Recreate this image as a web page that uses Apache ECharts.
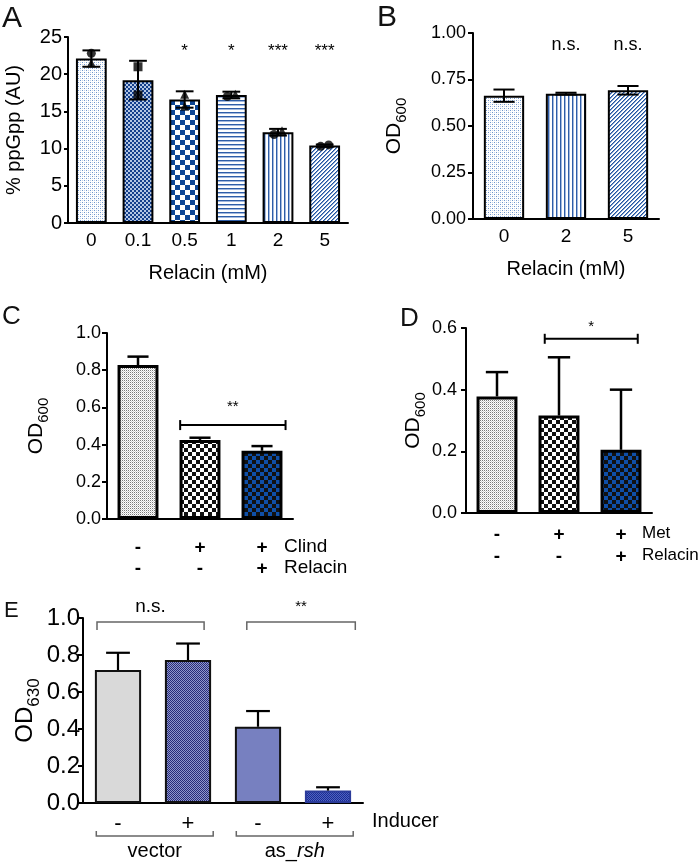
<!DOCTYPE html>
<html><head><meta charset="utf-8">
<script src="https://cdn.jsdelivr.net/npm/echarts@6/dist/echarts.min.js"></script>
<style>html,body{margin:0;padding:0;background:#fff}#c{width:700px;height:863px}</style>
</head><body><div id="c"></div>
<script>
// ---------------- data ----------------
const catsA = ['0', '0.1', '0.5', '1', '2', '5'];
const meanA = [22.1, 19.2, 16.6, 17.2, 12.2, 10.4];
const errA  = [1.1, 2.6, 1.1, 0.45, 0.45, 0.15];
const repA1 = [22.8, 21.0, 17.3, 17.0, 11.9, 10.3];
const repA2 = [21.5, 17.2, 15.7, 17.3, 12.4, 10.5];
const sigA  = ['', '', '*', '*', '***', '***'];
const sigAy = 23.1;

const catsB = ['0', '2', '5'];
const meanB = [0.663, 0.674, 0.692];
const errB  = [0.033, 0.005, 0.023];
const sigB  = ['', 'n.s.', 'n.s.'];
const sigBy = 0.935;

const clindC   = ['-', '+', '+'];
const relacinC = ['-', '-', '+'];
const meanC = [0.828, 0.425, 0.367];
const errC  = [0.045, 0.012, 0.025];
const pairC = [1, 2];
const pairCy = 0.505;
const pairCtxt = '**';

const metD     = ['-', '+', '+'];
const relacinD = ['-', '-', '+'];
const meanD = [0.378, 0.316, 0.205];
const errD  = [0.079, 0.189, 0.195];
const pairD = [1, 2];
const pairDy = 0.565;
const pairDtxt = '*';

const inducerE = ['-', '+', '-', '+'];
const groupE   = ['vector', 'vector', 'as_rsh', 'as_rsh'];
const meanE = [0.719, 0.773, 0.412, 0.067];
const errE  = [0.093, 0.089, 0.085, 0.018];
const pairsE = [[0, 1], [2, 3]];
const pairsEy = [0.978, 0.978];
const pairsEtxt = ['n.s.', '**'];

// ---------------- styles ----------------
const FONT = '"Liberation Sans", Arial, Helvetica, sans-serif';
function pat(w, h, draw) {
  const c = document.createElement('canvas'); c.width = w; c.height = h;
  const g = c.getContext('2d'); g.fillStyle = '#fff'; g.fillRect(0, 0, w, h); draw(g);
  return { image: c, repeat: 'repeat' };
}
function px(g, color, list) { g.fillStyle = color; list.forEach(p => g.fillRect(p[0], p[1], p[2] || 1, p[3] || 1)); }

const P = {
  lightDots: pat(4, 4, g => { px(g, '#6f95cc', [[0,0],[2,2]]); px(g, '#c3d3ea', [[2,0],[0,2]]); }),
  fineCheck: pat(4, 4, g => { px(g, '#b3c6e4', [[0,0,4,4]]); px(g, '#143f8c', [[0,0,2,2],[2,2,2,2]]); }),
  coarseCheck: pat(10, 10, g => { px(g, '#0c4594', [[0,0,5,5],[5,5,5,5]]); }),
  hStripes: pat(4, 4, g => { px(g, '#2f5ea8', [[0,0,4,1]]); px(g, '#a3b9de', [[0,1,4,1]]); }),
  vStripes: pat(4, 4, g => { px(g, '#2f5ea8', [[0,0,1,4]]); px(g, '#a3b9de', [[1,0,1,4]]); }),
  diag: pat(4, 4, g => { px(g, '#22549f', [[3,0],[2,1],[1,2],[0,3]]); px(g, '#7d9dd0', [[0,0],[3,1],[2,2],[1,3]]); }),
  grayDots: pat(2, 2, g => { px(g, '#7a7a7a', [[0,0]]); px(g, '#d0d0d0', [[1,1]]); }),
  bwCheck: pat(8, 8, g => { px(g, '#111', [[0,0,4,4],[4,4,4,4]]); }),
  blueBlackCheck: pat(8, 8, g => { px(g, '#111', [[0,0,4,4],[4,4,4,4]]); px(g, '#0f4fa8', [[4,0,4,4],[0,4,4,4]]); }),
  navyFine: pat(2, 2, g => { px(g, '#262b78', [[0,0],[1,1]]); px(g, '#9097cc', [[1,0],[0,1]]); }),
  blueFine: pat(2, 2, g => { px(g, '#1a2c94', [[0,0],[1,1]]); px(g, '#4f62bf', [[1,0],[0,1]]); })
};
const fillA = [P.lightDots, P.fineCheck, P.coarseCheck, P.hStripes, P.vStripes, P.diag];
const fillB = [P.lightDots, P.vStripes, P.diag];
const fillC = [P.grayDots, P.bwCheck, P.blueBlackCheck];
const fillE = ['#d9d9d9', P.navyFine, '#7780c0', P.blueFine];
const borderE = ['#111', '#111', '#111', '#2b3b9a'];
const symA1 = ['circle', 'rect', 'triangle', 'circle', 'circle', 'circle'];
const symA2 = ['triangle', 'rect', 'triangle', 'triangle', 'triangle', 'circle'];
const offA1 = [0, 0, 0, -4, -4, -4];
const offA2 = [0, 0, 0, 4, 4, 4];

// ---------------- helpers ----------------
function xAx(gi, data, o) {
  o = o || {};
  return {
    type: 'category', gridIndex: gi, data: data,
    axisLine: { lineStyle: { color: '#000', width: 2 } },
    axisTick: { alignWithLabel: true, length: 5, lineStyle: { color: '#000', width: 2 } },
    axisLabel: Object.assign({ color: '#000', fontFamily: FONT, fontSize: 19, margin: 8 }, o.label || {}),
    name: o.name || '', nameLocation: 'middle', nameGap: o.nameGap || 30,
    nameTextStyle: { color: '#000', fontFamily: FONT, fontSize: 20 }
  };
}
function yAx(gi, max, interval, dec, o) {
  o = o || {};
  return {
    type: 'value', gridIndex: gi, min: 0, max: max, interval: interval,
    splitLine: { show: false },
    axisLine: { show: true, lineStyle: { color: '#000', width: 2 } },
    axisTick: { show: true, length: o.tick || 5, lineStyle: { color: '#000', width: 2 } },
    axisLabel: { color: '#000', fontFamily: FONT, fontSize: o.fontSize || 17, margin: o.margin || 6,
      formatter: v => v.toFixed(dec) },
    name: o.name, nameLocation: 'middle', nameRotate: 90, nameGap: o.nameGap,
    nameTextStyle: Object.assign({ color: '#000', fontFamily: FONT, fontSize: 20 }, o.nameStyle || {})
  };
}
function odName(sub, big, small) {
  return {
    name: '{o|OD}{s|' + sub + '}',
    nameStyle: { rich: {
      o: { fontFamily: FONT, fontSize: big, color: '#000', verticalAlign: 'top', lineHeight: big },
      s: { fontFamily: FONT, fontSize: small, color: '#000', verticalAlign: 'top', lineHeight: small, padding: [Math.round(big * 0.48), 0, 0, 0] }
    } }
  };
}
function barSeries(gi, means, fills, borders, bw, width) {
  return {
    type: 'bar', xAxisIndex: gi, yAxisIndex: gi, barWidth: width, z: 2,
    data: means.map((m, i) => ({ value: m, itemStyle: { color: fills[i], borderColor: borders ? borders[i] : '#000', borderWidth: bw } }))
  };
}
function errSeries(gi, means, errs, upOnly, lw, capFrac) {
  return {
    type: 'custom', xAxisIndex: gi, yAxisIndex: gi, z: 5,
    data: means.map((m, i) => [i, m, errs[i]]),
    renderItem: (params, api) => {
      const i = api.value(0), m = api.value(1), e = api.value(2);
      const top = api.coord([i, m + e]);
      const bot = api.coord([i, upOnly ? m : m - e]);
      const half = api.size([1, 0])[0] * capFrac;
      const st = { stroke: '#000', lineWidth: lw };
      const ch = [
        { type: 'line', shape: { x1: top[0], y1: top[1], x2: bot[0], y2: bot[1] }, style: st },
        { type: 'line', shape: { x1: top[0] - half, y1: top[1], x2: top[0] + half, y2: top[1] }, style: st }
      ];
      if (!upOnly) ch.push({ type: 'line', shape: { x1: bot[0] - half, y1: bot[1], x2: bot[0] + half, y2: bot[1] }, style: st });
      return { type: 'group', children: ch };
    }
  };
}
function textSeries(gi, labels, yv, fs) {
  return {
    type: 'custom', xAxisIndex: gi, yAxisIndex: gi, z: 6, clip: false,
    data: labels.map((l, i) => [i, yv]),
    renderItem: (params, api) => {
      const p = api.coord([api.value(0), api.value(1)]);
      return { type: 'text', x: p[0], y: p[1], style: { text: labels[params.dataIndex], fontFamily: FONT, fontSize: fs, fill: '#000', align: 'center', verticalAlign: 'middle' } };
    }
  };
}
// significance line with end caps |----|
function pairSeries(gi, pair, yv, txt, txtGap, leftFrac, rightFrac) {
  return {
    type: 'custom', xAxisIndex: gi, yAxisIndex: gi, z: 6, clip: false,
    data: [[pair[0], yv, pair[1]]],
    renderItem: (params, api) => {
      const band = api.size([1, 0])[0];
      const a = api.coord([api.value(0), api.value(1)]);
      const b = api.coord([api.value(2), api.value(1)]);
      const x0 = a[0] - band * leftFrac, x1 = b[0] + band * rightFrac, y = a[1];
      const st = { stroke: '#000', lineWidth: 2 };
      return { type: 'group', children: [
        { type: 'line', shape: { x1: x0, y1: y, x2: x1, y2: y }, style: st },
        { type: 'line', shape: { x1: x0, y1: y - 5, x2: x0, y2: y + 5 }, style: st },
        { type: 'line', shape: { x1: x1, y1: y - 5, x2: x1, y2: y + 5 }, style: st },
        { type: 'text', x: (x0 + x1) / 2, y: y - txtGap, style: { text: txt, fontFamily: FONT, fontSize: 15, fill: '#000', align: 'center', verticalAlign: 'middle' } }
      ] };
    }
  };
}

// ---------------- option ----------------
const option = {
  animation: false,
  backgroundColor: '#fff',
  grid: [
    { left: 68, top: 37, width: 280, height: 186 },
    { left: 473, top: 33, width: 186, height: 186 },
    { left: 107, top: 333, width: 186, height: 186 },
    { left: 466, top: 328, width: 186, height: 185 },
    { left: 83, top: 618, width: 280, height: 185 }
  ],
  xAxis: [
    xAx(0, catsA, { name: 'Relacin (mM)', nameGap: 40 }),
    xAx(1, catsB, { name: 'Relacin (mM)', nameGap: 40 }),
    xAx(2, clindC.map((c, i) => c + '\n' + relacinC[i]), { label: { fontSize: 19, fontWeight: 'bold', lineHeight: 21, margin: 18 } }),
    xAx(3, metD.map((c, i) => c + '\n' + relacinD[i]), { label: { fontSize: 19, fontWeight: 'bold', lineHeight: 22, margin: 11 } }),
    xAx(4, groupE.map((g, i) => g + ' ' + inducerE[i]), { label: { fontSize: 22, margin: 10, formatter: (v, i) => inducerE[i] } })
  ],
  yAxis: [
    yAx(0, 25, 5, 0, { name: '% ppGpp (AU)', nameGap: 44, margin: 6, fontSize: 20, tick: 4 }),
    yAx(1, 1, 0.25, 2, Object.assign({ nameGap: 68, margin: 7, fontSize: 18 }, odName('600', 21, 15))),
    yAx(2, 1, 0.2, 1, Object.assign({ nameGap: 60, margin: 6, fontSize: 18 }, odName('600', 21, 15))),
    yAx(3, 0.6, 0.2, 1, Object.assign({ nameGap: 35, margin: 9, fontSize: 18 }, odName('600', 21, 15))),
    yAx(4, 1, 0.2, 1, Object.assign({ nameGap: 40, margin: 3, fontSize: 24 }, odName('630', 24, 17)))
  ],
  series: [
    // A
    barSeries(0, meanA, fillA, null, 2, '66%'),
    { type: 'scatter', xAxisIndex: 0, yAxisIndex: 0, z: 4, itemStyle: { color: '#000' },
      data: repA1.map((v, i) => ({ value: [i, v], symbol: symA1[i], symbolSize: 9, symbolOffset: [offA1[i], 0] })) },
    { type: 'scatter', xAxisIndex: 0, yAxisIndex: 0, z: 4, itemStyle: { color: '#000' },
      data: repA2.map((v, i) => ({ value: [i, v], symbol: symA2[i], symbolSize: 9, symbolOffset: [offA2[i], 0] })) },
    errSeries(0, meanA, errA, false, 2, 0.19),
    textSeries(0, sigA, sigAy, 17),
    // B
    barSeries(1, meanB, fillB, null, 2, '65%'),
    errSeries(1, meanB, errB, false, 2, 0.17),
    textSeries(1, sigB, sigBy, 18),
    // C
    barSeries(2, meanC, fillC, null, 3, '66%'),
    errSeries(2, meanC, errC, true, 2.5, 0.17),
    pairSeries(2, pairC, pairCy, pairCtxt, 18, 0.32, 0.38),
    // D
    barSeries(3, meanD, fillC, null, 3, '66%'),
    errSeries(3, meanD, errD, true, 2.5, 0.18),
    pairSeries(3, pairD, pairDy, pairDtxt, 12, 0.23, 0.27),
    // E
    barSeries(4, meanE, fillE, borderE, 2, '66%'),
    errSeries(4, meanE, errE, true, 2.2, 0.17),
    {
      type: 'custom', xAxisIndex: 4, yAxisIndex: 4, z: 6, clip: false,
      data: pairsE.map((p, k) => [p[0], pairsEy[k], p[1]]),
      renderItem: (params, api) => {
        const band = api.size([1, 0])[0];
        const a = api.coord([api.value(0), api.value(1)]);
        const b = api.coord([api.value(2), api.value(1)]);
        const legEnd = api.coord([api.value(0), api.value(1) - 0.043])[1];
        const k = params.dataIndex;
        const x0 = a[0] - band * (k === 0 ? 0.3 : 0.16), x1 = b[0] + band * (k === 0 ? 0.23 : 0.39), y = a[1];
        const st = { stroke: '#666', lineWidth: 1.5 };
        return { type: 'group', children: [
          { type: 'polyline', shape: { points: [[x0, legEnd], [x0, y], [x1, y], [x1, legEnd]] }, style: Object.assign({ fill: null }, st) },
          { type: 'text', x: (x0 + x1) / 2, y: y - 15, style: { text: pairsEtxt[k], fontFamily: FONT, fontSize: k === 0 ? 19 : 15, fill: '#000', align: 'center', verticalAlign: 'middle' } }
        ] };
      }
    },
    {
      type: 'custom', xAxisIndex: 4, yAxisIndex: 4, z: 6, clip: false,
      data: pairsE.map(p => [p[0], 0, p[1]]),
      renderItem: (params, api) => {
        const band = api.size([1, 0])[0];
        const a = api.coord([api.value(0), 0]);
        const b = api.coord([api.value(2), 0]);
        const x0 = a[0] - band * 0.31, x1 = b[0] + band * 0.36, yb = a[1] + 33;
        const name = groupE[api.value(0)];
        const parts = name.split('_');
        const txt = parts.length > 1 ? '{n|' + parts[0] + '_}{i|' + parts[1] + '}' : '{n|' + name + '}';
        return { type: 'group', children: [
          { type: 'polyline', shape: { points: [[x0, yb - 5], [x0, yb], [x1, yb], [x1, yb - 5]] }, style: { fill: null, stroke: '#666', lineWidth: 1.5 } },
          { type: 'text', x: (x0 + x1) / 2, y: yb + 15, style: { text: txt, align: 'center', verticalAlign: 'middle',
            rich: { n: { fontFamily: FONT, fontSize: 20, fill: '#000' }, i: { fontFamily: FONT, fontSize: 20, fontStyle: 'italic', fill: '#000' } } } }
        ] };
      }
    }
  ],
  graphic: [
    { type: 'text', left: 2, top: 4, style: { text: 'A', fontFamily: FONT, fontSize: 30, fill: '#111' } },
    { type: 'text', left: 377, top: 3, style: { text: 'B', fontFamily: FONT, fontSize: 30, fill: '#111' } },
    { type: 'text', left: 2, top: 304, style: { text: 'C', fontFamily: FONT, fontSize: 26, fill: '#111' } },
    { type: 'text', left: 400, top: 306, style: { text: 'D', fontFamily: FONT, fontSize: 26, fill: '#111' } },
    { type: 'text', left: 4, top: 600, style: { text: 'E', fontFamily: FONT, fontSize: 22, fill: '#111' } },
    { type: 'text', left: 284, top: 536, style: { text: 'Clind\nRelacin', fontFamily: FONT, fontSize: 19, lineHeight: 21, fill: '#000' } },
    { type: 'text', left: 642, top: 522, style: { text: 'Met\nRelacin', fontFamily: FONT, fontSize: 17, lineHeight: 22, fill: '#000' } },
    { type: 'text', left: 372, top: 811, style: { text: 'Inducer', fontFamily: FONT, fontSize: 20, fill: '#000' } }
  ]
};
const chart = echarts.init(document.getElementById('c'));
chart.setOption(option);
</script>
</body></html>
